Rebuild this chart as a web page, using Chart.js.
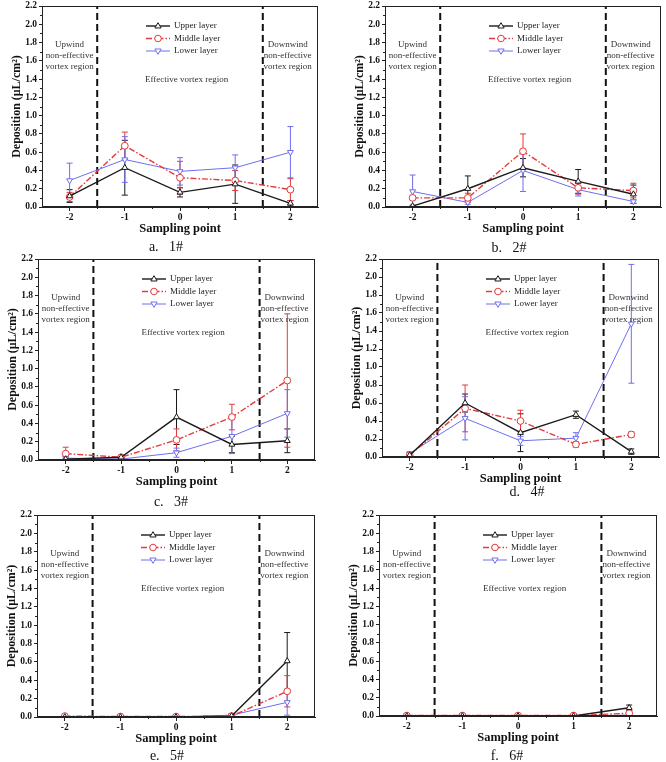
<!DOCTYPE html>
<html>
<head>
<meta charset="utf-8">
<script src="https://cdn.jsdelivr.net/npm/chart.js@4.4.1/dist/chart.umd.min.js"></script>
<style>
  body { margin: 0; background: #fff; }
  #wrap { position: relative; width: 666px; height: 762px; overflow: hidden; }
  canvas { position: absolute; }
</style>
</head>
<body>
<div id="wrap"></div>
<script>
// sampling points and axis ticks
const xTicks = [-2, -1, 0, 1, 2];
const yTicks = [0, 0.2, 0.4, 0.6, 0.8, 1.0, 1.2, 1.4, 1.6, 1.8, 2.0, 2.2];
const xMinor = [-1.5, -0.5, 0.5, 1.5];
const yMinor = [0.1, 0.3, 0.5, 0.7, 0.9, 1.1, 1.3, 1.5, 1.7, 1.9, 2.1];
const layers = ['Upper layer', 'Middle layer', 'Lower layer'];
const boundaries = [-1.5, 1.5];

// 1#
const upper1 = [0.12, 0.43, 0.16, 0.25, 0.04];
const upper1Err = [0.07, 0.30, 0.05, 0.21, 0.03];
const middle1 = [0.11, 0.67, 0.32, 0.29, 0.19];
const middle1Err = [0.05, 0.15, 0.18, 0.11, 0.12];
const lower1 = [0.29, 0.52, 0.39, 0.43, 0.60];
const lower1Err = [0.19, 0.25, 0.15, 0.14, 0.28];

// 2#
const upper2 = [0.01, 0.20, 0.43, 0.28, 0.14];
const upper2Err = [0.01, 0.14, 0.10, 0.13, 0.10];
const middle2 = [0.10, 0.10, 0.61, 0.21, 0.18];
const middle2Err = [0.02, 0.05, 0.19, 0.07, 0.08];
const lower2 = [0.17, 0.05, 0.40, 0.19, 0.06];
const lower2Err = [0.18, 0.02, 0.23, 0.07, 0.02];

// 3#
const upper3 = [0.01, 0.03, 0.47, 0.17, 0.21];
const upper3Err = [0.01, 0.01, 0.30, 0.09, 0.13];
const middle3 = [0.07, 0.03, 0.22, 0.47, 0.87];
const middle3Err = [0.07, 0.01, 0.12, 0.14, 0.73];
const lower3 = [0.02, 0.01, 0.08, 0.26, 0.51];
const lower3Err = [0.02, 0.01, 0.05, 0.19, 0.26];

// 4#
const upper4 = [0.02, 0.60, 0.27, 0.47, 0.06];
const upper4Err = [0.01, 0.10, 0.21, 0.04, 0.03];
const middle4 = [0.02, 0.54, 0.40, 0.14, 0.25];
const middle4Err = [0.01, 0.26, 0.12, 0.03, 0.03];
const lower4 = [0.04, 0.43, 0.18, 0.21, 1.48];
const lower4Err = [0.01, 0.24, 0.05, 0.06, 0.66];

// 5#
const upper5 = [0.00, 0.00, 0.00, 0.01, 0.61];
const upper5Err = [0.00, 0.00, 0.00, 0.01, 0.31];
const middle5 = [0.01, 0.005, 0.005, 0.01, 0.28];
const middle5Err = [0.005, 0.003, 0.003, 0.005, 0.17];
const lower5 = [0.00, 0.00, 0.00, 0.02, 0.16];
const lower5Err = [0.00, 0.00, 0.00, 0.01, 0.14];

// 6#
const upper6 = [0.00, 0.00, 0.00, 0.00, 0.09];
const upper6Err = [0.00, 0.00, 0.00, 0.00, 0.03];
const middle6 = [0.005, 0.005, 0.005, 0.005, 0.03];
const middle6Err = [0.00, 0.00, 0.00, 0.00, 0.02];
const lower6 = [0.00, 0.00, 0.00, 0.00, 0.01];
const lower6Err = [0.00, 0.00, 0.00, 0.00, 0.01];

const colors = ['#1a1a1a', '#e33b3b', '#6e6ef0'];
const dashes = [[], [6, 2, 1.5, 2], []];
const widths = [1.4, 1.4, 1];
const serif = '"Liberation Serif", "Times New Roman", serif';

// area = [left, top, right, bottom] inside each 333x254 canvas
const panels = [
  { left: 0,   top: 0,   area: [42, 6, 318, 207], cap: 'a.\u00a0\u00a0\u00a01#', capX: 166, capY: 247,
    series: [[upper1, upper1Err], [middle1, middle1Err], [lower1, lower1Err]] },
  { left: 333, top: 0,   area: [52, 6, 328, 207], cap: 'b.\u00a0\u00a0\u00a02#', capX: 176, capY: 248,
    series: [[upper2, upper2Err], [middle2, middle2Err], [lower2, lower2Err]] },
  { left: 0,   top: 254, area: [38, 5, 315, 206], cap: 'c.\u00a0\u00a0\u00a03#', capX: 171, capY: 248,
    series: [[upper3, upper3Err], [middle3, middle3Err], [lower3, lower3Err]] },
  { left: 333, top: 254, area: [49, 1, 326, 203], cap: 'd.\u00a0\u00a0\u00a04#', capX: 194, capY: 238,
    series: [[upper4, upper4Err], [middle4, middle4Err], [lower4, lower4Err]] },
  { left: 0,   top: 508, area: [37, 7, 315, 209], cap: 'e.\u00a0\u00a0\u00a05#', capX: 167, capY: 248,
    series: [[upper5, upper5Err], [middle5, middle5Err], [lower5, lower5Err]] },
  { left: 333, top: 508, area: [46, 7, 324, 208], cap: 'f.\u00a0\u00a0\u00a06#', capX: 174, capY: 248,
    series: [[upper6, upper6Err], [middle6, middle6Err], [lower6, lower6Err]] }
];

function drawMarker(ctx, i, x, y, r) {
  ctx.save();
  ctx.setLineDash([]);
  ctx.fillStyle = '#fff';
  ctx.strokeStyle = colors[i];
  ctx.lineWidth = 1;
  ctx.beginPath();
  if (i === 1) {
    ctx.arc(x, y, r, 0, Math.PI * 2);
  } else {
    const s = i === 0 ? -1 : 1;
    ctx.moveTo(x, y + s * r);
    ctx.lineTo(x - r * 0.95, y - s * r * 0.6);
    ctx.lineTo(x + r * 0.95, y - s * r * 0.6);
    ctx.closePath();
  }
  ctx.fill(); ctx.stroke();
  ctx.restore();
}

const deco = {
  id: 'deco',
  beforeDatasetsDraw(chart) {
    const { ctx, chartArea: a, scales: { y } } = chart;
    ctx.save();
    ctx.beginPath(); ctx.rect(a.left, a.top - 1, a.right - a.left, a.bottom - a.top + 1); ctx.clip();
    chart.data.datasets.forEach((ds, i) => {
      if (!ds.errors) return;
      const meta = chart.getDatasetMeta(i);
      ctx.strokeStyle = ds.borderColor;
      ctx.lineWidth = 1;
      ds.errors.forEach((e, k) => {
        if (!e) return;
        const v = ds.data[k].y, px = meta.data[k].x;
        const y1 = y.getPixelForValue(v + e), y2 = y.getPixelForValue(v - e);
        ctx.beginPath();
        ctx.moveTo(px, y1); ctx.lineTo(px, y2);
        ctx.moveTo(px - 3, y1); ctx.lineTo(px + 3, y1);
        ctx.moveTo(px - 3, y2); ctx.lineTo(px + 3, y2);
        ctx.stroke();
      });
    });
    ctx.restore();
  },
  afterDraw(chart) {
    const { ctx, chartArea: a, scales: { x, y } } = chart;
    const p = chart.options.plugins.deco;
    ctx.save();
    // frame
    ctx.strokeStyle = '#222';
    ctx.lineWidth = 1;
    ctx.strokeRect(a.left + 0.5, a.top + 0.5, a.right - a.left - 1, a.bottom - a.top - 1);
    // minor ticks
    ctx.beginPath();
    yMinor.forEach(v => { const py = Math.round(y.getPixelForValue(v)) + 0.5; ctx.moveTo(a.left - 2, py); ctx.lineTo(a.left, py); });
    xMinor.forEach(v => { const px = Math.round(x.getPixelForValue(v)) + 0.5; ctx.moveTo(px, a.bottom); ctx.lineTo(px, a.bottom + 2); });
    ctx.stroke();
    // region labels
    ctx.fillStyle = '#333';
    ctx.font = '9px ' + serif;
    ctx.textAlign = 'center';
    ctx.textBaseline = 'middle';
    ['Upwind', 'non-effective', 'vortex region'].forEach((t, k) => ctx.fillText(t, x.getPixelForValue(-2), a.top + 39 + k * 11));
    ['Downwind', 'non-effective', 'vortex region'].forEach((t, k) => ctx.fillText(t, x.getPixelForValue(1.95), a.top + 39 + k * 11));
    ctx.fillText('Effective vortex region', x.getPixelForValue(0.12), a.top + 74);
    // legend
    const lx = a.left + 104, ly = a.top + 20;
    layers.forEach((name, i) => {
      const ry = ly + i * 12.5;
      ctx.strokeStyle = colors[i];
      ctx.lineWidth = widths[i];
      ctx.setLineDash(dashes[i]);
      ctx.beginPath(); ctx.moveTo(lx, ry); ctx.lineTo(lx + 24, ry); ctx.stroke();
      drawMarker(ctx, i, lx + 12, ry, 3.3);
      ctx.fillStyle = '#222';
      ctx.textAlign = 'left';
      ctx.fillText(name, lx + 28, ry);
    });
    // caption
    ctx.fillStyle = '#111';
    ctx.font = '14px ' + serif;
    ctx.textAlign = 'center';
    ctx.fillText(p.cap, p.capX, p.capY);
    ctx.restore();
  }
};

const wrap = document.getElementById('wrap');

panels.forEach(p => {
  const cv = document.createElement('canvas');
  cv.width = 333; cv.height = 254;
  cv.style.left = p.left + 'px'; cv.style.top = p.top + 'px';
  wrap.appendChild(cv);
  const [L, T, R, B] = p.area;
  const xH = 30;

  const datasets = p.series.map(([vals, errs], i) => ({
    label: layers[i],
    data: xTicks.map((xv, k) => ({ x: xv, y: vals[k] })),
    errors: errs,
    showLine: true,
    borderColor: colors[i],
    borderWidth: widths[i],
    borderDash: dashes[i],
    pointStyle: i === 1 ? 'circle' : 'triangle',
    rotation: i === 2 ? 180 : 0,
    pointRadius: 3.4,
    pointBackgroundColor: '#fff',
    pointBorderColor: colors[i],
    pointBorderWidth: 1
  }));
  boundaries.forEach(b => datasets.push({
    data: [{ x: b, y: 0 }, { x: b, y: 2.2 }],
    showLine: true,
    borderColor: '#111',
    borderWidth: 2,
    borderDash: [7, 4],
    pointRadius: 0
  }));

  new Chart(cv, {
    type: 'scatter',
    data: { datasets },
    options: {
      responsive: false,
      animation: false,
      devicePixelRatio: 1,
      layout: { padding: { left: 0, top: T, right: 333 - R, bottom: 254 - B - xH } },
      plugins: {
        legend: { display: false },
        tooltip: { enabled: false },
        deco: { cap: p.cap, capX: p.capX, capY: p.capY }
      },
      scales: {
        x: {
          type: 'linear', min: -2.5, max: 2.5,
          afterBuildTicks: s => { s.ticks = xTicks.map(v => ({ value: v })); },
          afterFit: s => { s.height = xH; s.paddingLeft = 0; s.paddingRight = 0; },
          grid: { display: true, drawOnChartArea: false, tickLength: 4, color: '#222' },
          border: { display: true, color: '#222', width: 1 },
          ticks: { color: '#111', padding: 1, font: { family: serif, size: 9.5, weight: 'bold' }, callback: v => String(v) },
          title: { display: true, text: 'Sampling point', color: '#111', padding: { top: 0, bottom: 1 },
                   font: { family: serif, size: 12.5, weight: 'bold' } }
        },
        y: {
          min: 0, max: 2.2,
          afterBuildTicks: s => { s.ticks = yTicks.map(v => ({ value: v })); },
          afterFit: s => { s.width = L; s.paddingTop = 0; s.paddingBottom = 0; },
          grid: { display: true, drawOnChartArea: false, tickLength: 3, color: '#222' },
          border: { display: true, color: '#222', width: 1 },
          ticks: { color: '#111', padding: 2, font: { family: serif, size: 9.5, weight: 'bold' }, callback: v => v.toFixed(1) },
          title: { display: true, text: 'Deposition (\u03bcL/cm\u00b2)', color: '#111', padding: { top: L - 32.5, bottom: 0 },
                   font: { family: serif, size: 12, weight: 'bold' } }
        }
      }
    },
    plugins: [deco]
  });
});
</script>
</body>
</html>
